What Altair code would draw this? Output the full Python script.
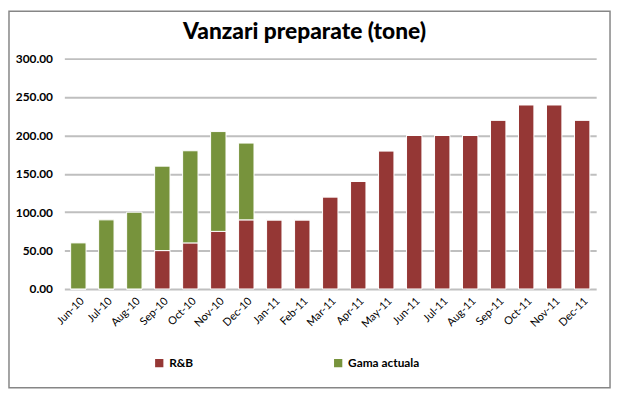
import altair as alt
import pandas as pd

title_text = "Vanzari preparate (tone)"
months = ["Jun-10", "Jul-10", "Aug-10", "Sep-10", "Oct-10", "Nov-10", "Dec-10",
          "Jan-11", "Feb-11", "Mar-11", "Apr-11", "May-11", "Jun-11", "Jul-11",
          "Aug-11", "Sep-11", "Oct-11", "Nov-11", "Dec-11"]
rb = [0, 0, 0, 50, 60, 75, 90, 90, 90, 120, 140, 180, 200, 200, 200, 220, 240, 240, 220]
gama = [60, 90, 100, 110, 120, 130, 100, 0, 0, 0, 0, 0, 0, 0, 0, 0, 0, 0, 0]
series = ["R&B", "Gama actuala"]
colors = ["#953735", "#77933C"]

rows = []
for m, r, g in zip(months, rb, gama):
    rows.append({"month": m, "series": series[0], "value": r, "ord": 0})
    rows.append({"month": m, "series": series[1], "value": g, "ord": 1})
df = pd.DataFrame(rows)

FONT = "Lato"
W, H = 538, 233

bars = alt.Chart(df).mark_bar(stroke="#ffffff", strokeWidth=1).encode(
    x=alt.X("month:N", sort=months, title=None,
            scale=alt.Scale(paddingInner=0.45, paddingOuter=0.225),
            axis=alt.Axis(labelAngle=-45, labelFont=FONT, labelFontSize=11,
                          labelColor="#000000", ticks=False, domain=False,
                          labelPadding=6, grid=False)),
    y=alt.Y("value:Q", stack="zero", title=None,
            scale=alt.Scale(domain=[0, 300], nice=False),
            axis=alt.Axis(values=[0, 50, 100, 150, 200, 250, 300], format=".2f",
                          labelFont=FONT, labelFontSize=12, labelFontWeight="bold",
                          labelColor="#000000", ticks=False, domain=False,
                          labelPadding=12, grid=True, gridColor="#BFBFBF",
                          gridWidth=2)),
    color=alt.Color("series:N", scale=alt.Scale(domain=series, range=colors),
                    legend=alt.Legend(title=None, orient="none", legendX=90,
                                      legendY=302, direction="horizontal",
                                      symbolType="square", symbolSize=70,
                                      symbolStrokeWidth=0, columnPadding=140,
                                      labelFont=FONT, labelFontSize=12,
                                      labelFontWeight="bold", labelColor="#000000")),
    order=alt.Order("ord:Q", sort="ascending"),
)

frame = alt.Chart(pd.DataFrame({"a": [0]})).mark_rect(
    fill=None, stroke="#868686", strokeWidth=1.5
).encode(
    x=alt.value(-56), x2=alt.value(W + 14),
    y=alt.value(-48), y2=alt.value(H + 100),
)

title = alt.Chart(pd.DataFrame({"t": [title_text]})).mark_text(
    font=FONT, fontSize=23, fontWeight=900, color="#000000",
    align="center", baseline="alphabetic"
).encode(text="t:N", x=alt.value(243), y=alt.value(-20))

chart = alt.layer(bars, frame, title).properties(
    width=W, height=H,
    autosize=alt.AutoSizeParams(type="none"),
    padding={"left": 57, "top": 49, "right": 16, "bottom": 102},
).configure_view(stroke=None)

chart.save("out.html", embed_options={"renderer": "svg", "actions": False})
